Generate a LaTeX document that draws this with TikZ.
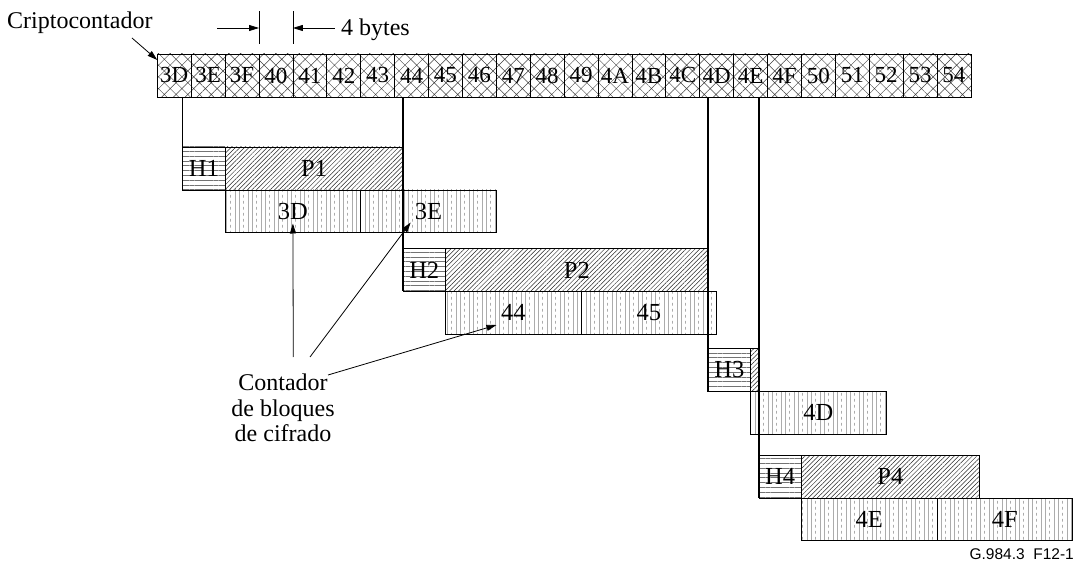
\documentclass[tikz,border=0pt]{standalone}
\usepackage{fontspec}
\setmainfont{Liberation Serif}
\newfontfamily\figsans{Liberation Sans}
\usetikzlibrary{patterns.meta,arrows.meta,calc}
\tikzdeclarepattern{
  name=vstripes,
  type=uncolored,
  bounding box={(0pt,0pt) and (13pt,6pt)},
  tile size={(13pt,6pt)},
  code={
    \draw[line width=0.5pt] (1.5pt,-1pt) -- (1.5pt,7pt);
    \draw[line width=0.5pt] (5.8pt,-1pt) -- (5.8pt,7pt);
    \draw[line width=0.5pt] (10pt,0.5pt) -- (10pt,3.5pt);
  }
}
\begin{document}
\begin{tikzpicture}[x=1pt,y=-1pt,
  txt/.style={font=\fontsize{24}{25.5}\selectfont, inner sep=0pt},
  boxbase/.style={draw=black, line width=0.7pt, inner sep=0pt, outer sep=0pt, anchor=north west, font=\fontsize{24.5}{25}\selectfont},
  cell/.style={boxbase, pattern={Hatch[angle=45,distance=8.3pt,line width=0.45pt]}, pattern color=black!75, minimum width=33.9pt, minimum height=43pt, font=\fontsize{23}{24}\selectfont},
  hdr/.style={boxbase, pattern={Lines[angle=0,distance=4.8pt,line width=0.45pt]}, pattern color=black!55, minimum width=42.375pt, minimum height=43pt},
  pay/.style={boxbase, pattern={Lines[angle=45,distance=3.2pt,line width=0.5pt]}, pattern color=black!85, minimum height=43pt},
  cbk/.style={boxbase, pattern=vstripes, pattern color=black!50, minimum width=135.6pt, minimum height=42.5pt},
  vline/.style={line width=1.5pt},
  arr/.style={line width=0.8pt, -{Triangle[length=10pt,width=6pt]}},
]
\useasboundingbox (0,0) rectangle (1077,564);

% cryptocounter cells
\foreach \t [count=\i from 0] in {3D,3E,3F,40,41,42,43,44,45,46,47,48,49,4A,4B,4C,4D,4E,4F,50,51,52,53,54}
  \node[cell] (c\i) at ({157.3+33.9*\i},54) {\t};

% row 1
\node[hdr] (h1) at (182.725,147) {H1};
\node[pay, minimum width=177.975pt] (p1) at (h1.north east) {P1};
\node[cbk] (k1a) at (h1.south east) {3D};
\node[cbk] (k1b) at (k1a.north east) {3E};
% row 2
\node[hdr] (h2) at (403.075,248.5) {H2};
\node[pay, minimum width=262.725pt] (p2) at (h2.north east) {P2};
\node[cbk] (k2a) at (h2.south east) {44};
\node[cbk] (k2b) at (k2a.north east) {45};
% row 3
\node[hdr] (h3) at (708.175,348.5) {H3};
\node[pay, minimum width=8.475pt] (p3) at (h3.north east) {};
\node[cbk] (k3a) at (h3.south east) {4D};
% row 4
\node[hdr] (h4) at (759.025,455) {H4};
\node[pay, minimum width=177.975pt] (p4) at (h4.north east) {P4};
\node[cbk] (k4a) at (h4.south east) {4E};
\node[cbk] (k4b) at (k4a.north east) {4F};

% alignment lines from the counter
\draw[vline] (h1.south west |- c0.south) -- (h1.south west);
\draw[vline] (h2.south west |- c7.south) -- (h2.south west);
\draw[vline] (h3.south west |- c16.south) -- (h3.south west);
\draw[vline] (h4.south west |- c17.south) -- (h4.south west);

% 4 bytes dimension
\draw[line width=0.8pt] ([yshift=10pt]c3.north west) -- ([yshift=42.5pt]c3.north west);
\draw[line width=0.8pt] ([yshift=10pt]c4.north west) -- ([yshift=42.5pt]c4.north west);
\draw[arr] ([xshift=-42pt,yshift=26pt]c3.north west) -- ([yshift=26pt]c3.north west);
\draw[arr] ([xshift=42pt,yshift=26pt]c4.north west) -- ([yshift=26pt]c4.north west);
\node[txt, anchor=base west] (bytes) at ([xshift=48pt,yshift=18pt]c4.north west) {4 bytes};

% Criptocontador
\node[txt, anchor=base west] (cripto) at (7,29) {Criptocontador};
\coordinate (cs) at (132,38);
\draw[arr] (cs) -- ([yshift=-6pt]c0.north west);

% Contador de bloques de cifrado
\node[txt, align=center, anchor=north] (ctr) at (283,374) {Contador\\de bloques\\de cifrado};
\coordinate (a1) at (293.3,357);
\coordinate (a2) at (310,357);
\coordinate (a3) at (328,375);
\draw[arr] (a1) -- ($(k1a.south)+(0,-9)$);
\draw[arr] (a2) -- ($(k1b.south west)+(50,-10)$);
\draw[arr] (a3) -- ($(k2a.south west)+(51,-9)$);

% figure id
\node[inner sep=0pt, anchor=base east, font=\figsans\fontsize{15.5}{16}\selectfont] (fid) at (1074,559) {G.984.3~~F12-1};
\end{tikzpicture}
\end{document}
